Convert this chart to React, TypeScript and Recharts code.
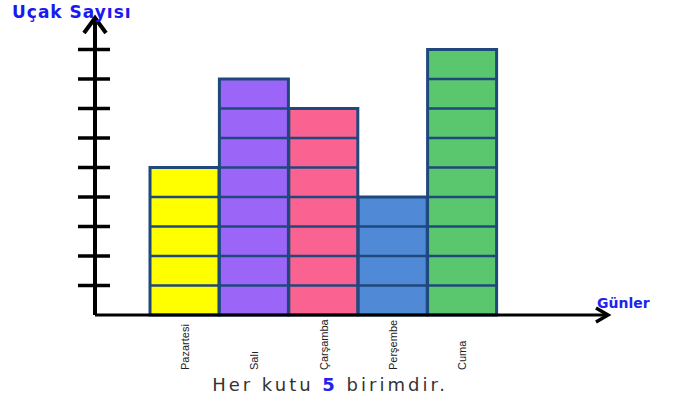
import { BarChart, Bar, XAxis, YAxis, Cell } from 'recharts';

const days = ['Pazartesi', 'Salı', 'Çarşamba', 'Perşembe', 'Cuma'];
const planes = [25, 40, 35, 20, 45];
const boxColors = ['#FFFF00', '#9B66F8', '#FA6292', '#5089D6', '#5AC76E'];
const yTicks = [5, 10, 15, 20, 25, 30, 35, 40, 45];
const unit = 5;

const data = days.map((day, i) => ({ day, value: planes[i] }));

const border = '#1F497D';

function BoxBar(props: any) {
  const { x, y, width, height, fill, value } = props;
  const n = Math.round((Array.isArray(value) ? value[1] : value) / unit);
  const step = height / n;
  const lines = [];
  for (let i = 1; i < n; i++) {
    lines.push(<line key={i} x1={x} x2={x + width} y1={y + i * step} y2={y + i * step} stroke={border} strokeWidth={2.5} />);
  }
  return (
    <g>
      <rect x={x} y={y} width={width} height={height} fill={fill} stroke={border} strokeWidth={3} />
      {lines}
    </g>
  );
}

function YTick(props: any) {
  const { x, y } = props;
  return <line x1={x - 17} x2={x + 15} y1={y} y2={y} stroke="#000" strokeWidth={3.5} />;
}

function XTick(props: any) {
  const { x, y, payload } = props;
  return (
    <text
      x={x + 4}
      y={y + 55}
      transform={`rotate(-90 ${x + 4} ${y + 55})`}
      textAnchor="start"
      fontFamily="'Liberation Sans Narrow', 'Liberation Sans', Arial, sans-serif"
      fontSize={11}
      fill="#222"
    >
      {payload.value}
    </text>
  );
}

function YLabel(props: any) {
  const { viewBox } = props;
  const ax = viewBox.x + viewBox.width;
  const top = viewBox.y;
  return (
    <g>
      <polyline points={`${ax - 11},${top + 13} ${ax},${top - 2} ${ax + 11},${top + 13}`} fill="none" stroke="#000" strokeWidth={4} />
      <text x={12} y={18} fontFamily="'DejaVu Sans', Verdana, sans-serif" fontWeight="bold" fontSize={17} letterSpacing={1} fill="#1A1AF0">
        Uçak Sayısı
      </text>
    </g>
  );
}

function XLabel(props: any) {
  const { viewBox } = props;
  const right = viewBox.x + viewBox.width;
  const ay = viewBox.y;
  return (
    <g>
      <polyline points={`${right - 12},${ay - 7} ${right},${ay} ${right - 12},${ay + 7}`} fill="none" stroke="#000" strokeWidth={3.5} />
      <text x={597} y={308} fontFamily="'DejaVu Sans', Verdana, sans-serif" fontWeight="bold" fontSize={14} fill="#2222EE">
        Günler
      </text>
      <text x={330} y={391} textAnchor="middle" fontFamily="'DejaVu Sans', Verdana, sans-serif" fontSize={18} letterSpacing={3} fill="#333">
        Her kutu <tspan fontWeight="bold" fill="#2222EE">5</tspan> birimdir.
      </text>
    </g>
  );
}

export default function App() {
  return (
    <div style={{ position: 'absolute', left: 0, top: 0, background: '#fff' }}>
      <BarChart width={695} height={407} data={data} margin={{ top: 20, right: 87, bottom: 32, left: 0 }} barCategoryGap={0}>
        <YAxis
          width={95}
          domain={[0, 50]}
          ticks={yTicks}
          tick={<YTick />}
          tickLine={false}
          tickSize={0}
          tickMargin={0}
          axisLine={{ stroke: '#000', strokeWidth: 4 }}
          label={{ content: <YLabel /> }}
        />
        <XAxis
          dataKey="day"
          height={60}
          padding={{ left: 55, right: 111 }}
          tick={<XTick />}
          tickLine={false}
          tickSize={0}
          tickMargin={0}
          interval={0}
          axisLine={{ stroke: '#000', strokeWidth: 3 }}
          label={{ content: <XLabel /> }}
        />
        <Bar dataKey="value" shape={<BoxBar />} isAnimationActive={false}>
          {data.map((d, i) => (
            <Cell key={d.day} fill={boxColors[i]} />
          ))}
        </Bar>
      </BarChart>
    </div>
  );
}
